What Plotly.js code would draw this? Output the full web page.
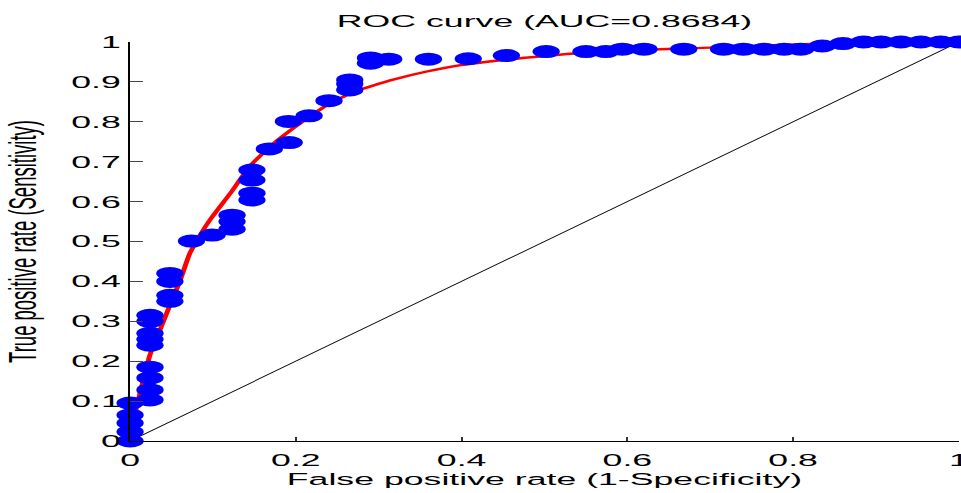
<!DOCTYPE html>
<html>
<head>
<meta charset="utf-8">
<script src="https://cdn.plot.ly/plotly-3.0.1.min.js"></script>
<style>
html,body{margin:0;padding:0;overflow:hidden;background:#fff;width:961px;height:493px;}
#chart{width:458px;height:493px;transform:scaleX(2.0983);transform-origin:0 0;}
</style>
</head>
<body>
<div id="chart"></div>
<script>
// Fitted ROC curve (red)
const fitFPR = [0, 0.005, 0.012, 0.024, 0.036, 0.048, 0.06, 0.072, 0.085, 0.097, 0.121, 0.145, 0.177, 0.205, 0.238, 0.27, 0.318, 0.358, 0.399, 0.45, 0.5, 0.55, 0.64, 0.70, 0.8, 0.9, 1.0];
const fitTPR = [0, 0.06, 0.12, 0.216, 0.278, 0.34, 0.40, 0.47, 0.518, 0.556, 0.621, 0.69, 0.752, 0.796, 0.842, 0.875, 0.906, 0.926, 0.942, 0.955, 0.965, 0.973, 0.982, 0.986, 0.994, 0.998, 1.0];

// Empirical operating points (blue)
const ptFPR = [0, 0, 0, 0, 0,
  0.024, 0.024, 0.024, 0.024, 0.024, 0.024, 0.024, 0.024, 0.024,
  0.048, 0.048, 0.048, 0.048,
  0.074, 0.099,
  0.123, 0.123, 0.123,
  0.147, 0.147, 0.147, 0.147,
  0.168, 0.192, 0.191, 0.216, 0.240,
  0.265, 0.265, 0.265,
  0.29, 0.29, 0.312, 0.36, 0.408, 0.454, 0.502, 0.55, 0.574, 0.594, 0.62, 0.668,
  0.716, 0.74, 0.765, 0.789, 0.809, 0.835, 0.86, 0.885, 0.906, 0.93, 0.954, 0.978, 1.0];
const ptTPR = [0, 0.023, 0.045, 0.065, 0.095,
  0.103, 0.128, 0.158, 0.185, 0.24, 0.255, 0.27, 0.30, 0.315,
  0.35, 0.365, 0.40, 0.42,
  0.501, 0.516,
  0.531, 0.55, 0.566,
  0.604, 0.621, 0.654, 0.679,
  0.732, 0.748, 0.801, 0.815, 0.853,
  0.880, 0.895, 0.905,
  0.947, 0.96, 0.957, 0.957, 0.958, 0.966, 0.976, 0.976, 0.976, 0.982, 0.982, 0.982,
  0.982, 0.982, 0.982, 0.982, 0.982, 0.99, 0.996, 1, 1, 1, 1, 1, 1];

// Chance line
const chanceX = [0, 1];
const chanceY = [0, 1];

const titleText = 'ROC curve (AUC=0.8684)';
const xTitle = 'False positive rate (1-Specificity)';
const yTitle = 'True positive rate (Sensitivity)';

const FONT = '"Liberation Sans", Arial, Helvetica, sans-serif';

const traces = [
  {x: chanceX, y: chanceY, mode: 'lines', line: {color: '#000', width: 0.7}, hoverinfo: 'skip', showlegend: false},
  {x: fitFPR, y: fitTPR, mode: 'lines', line: {color: '#ff0000', width: 2.4, shape: 'spline', smoothing: 0.6}, showlegend: false, cliponaxis: false},
  {x: ptFPR, y: ptTPR, mode: 'markers', marker: {color: '#0000ff', size: 13, line: {width: 0}}, showlegend: false, cliponaxis: false}
];

const layout = {
  width: 458, height: 493,
  margin: {l: 62, r: 1, t: 42, b: 52},
  paper_bgcolor: '#fff', plot_bgcolor: '#fff',
  font: {family: FONT, color: '#000', size: 17},
  title: {text: titleText, x: 0.5, xref: 'paper', xanchor: 'center', y: 0.957, yref: 'container', yanchor: 'middle', font: {family: FONT, size: 17, color: '#000'}},
  xaxis: {
    range: [0, 1], dtick: 0.2, tick0: 0, showgrid: false, zeroline: false,
    showline: true, linecolor: '#000', linewidth: 1,
    ticks: 'inside', ticklen: 4, tickcolor: '#333', tickwidth: 1,
    ticklabeloverflow: 'allow', ticklabelstandoff: 4,
    tickfont: {family: FONT, size: 17, color: '#000'},
    title: {text: xTitle, font: {family: FONT, size: 17, color: '#000'}, standoff: 3},
    fixedrange: true
  },
  yaxis: {
    range: [0, 1], dtick: 0.1, tick0: 0, showgrid: false, zeroline: false,
    showline: true, linecolor: '#000', linewidth: 1,
    ticks: 'inside', ticklen: 6, tickcolor: '#444', tickwidth: 1,
    tickfont: {family: FONT, size: 17, color: '#000'},
    title: {text: yTitle, font: {family: FONT, size: 18.5, color: '#000'}, standoff: 11},
    fixedrange: true
  }
};

Plotly.newPlot('chart', traces, layout, {displayModeBar: false, staticPlot: true});
</script>
</body>
</html>
